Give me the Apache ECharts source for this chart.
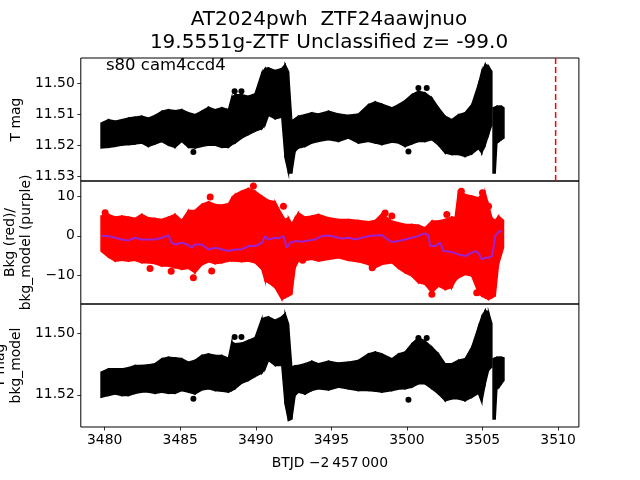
<!DOCTYPE html>
<html><head><meta charset="utf-8">
<script src="https://cdn.jsdelivr.net/npm/echarts@6/dist/echarts.min.js"></script>
<style>html,body{margin:0;padding:0;background:#fff}#c{width:640px;height:480px}</style>
</head><body><div id="c"></div>
<script>
// ---------- data ----------
// top panel: T mag envelope (bright edge / faint edge)
const topT  = [3479.76,3480.25,3480.69,3481.13,3481.57,3482.01,3482.45,3482.89,3483.34,3483.78,3484.22,3484.66,3485.10,3485.54,3485.98,3486.42,3486.87,3487.31,3487.75,3488.19,3488.41,3488.63,3489.07,3489.51,3489.95,3490.40,3490.62,3490.84,3491.28,3491.72,3491.94,3492.16,3492.38,3492.60,3492.82,3493.26,3493.70,3494.15,3494.81,3495.47,3496.13,3496.79,3497.45,3497.90,3498.34,3499.00,3499.44,3499.88,3500.32,3500.76,3501.20,3501.65,3502.09,3502.53,3502.97,3503.41,3503.85,3504.29,3504.73,3504.95,3505.18,3505.40,3505.62];
const topHi = [11.5128,11.5117,11.5122,11.5117,11.5112,11.5109,11.5106,11.5112,11.5103,11.5090,11.5085,11.5088,11.5085,11.5095,11.5101,11.5090,11.5077,11.5085,11.5079,11.5085,11.5045,11.5037,11.5037,11.5042,11.5034,11.4967,11.4953,11.4951,11.4959,11.4953,11.4940,11.4962,11.5120,11.5114,11.5106,11.5101,11.5095,11.5099,11.5090,11.5099,11.5103,11.5099,11.5069,11.5060,11.5067,11.5079,11.5069,11.5056,11.5037,11.5026,11.5031,11.5047,11.5079,11.5106,11.5117,11.5101,11.5095,11.5069,11.5004,11.4962,11.4940,11.4945,11.4962];
const topLo = [11.5208,11.5206,11.5203,11.5199,11.5197,11.5195,11.5192,11.5203,11.5195,11.5187,11.5199,11.5206,11.5187,11.5206,11.5208,11.5203,11.5199,11.5199,11.5206,11.5206,11.5197,11.5192,11.5176,11.5165,11.5154,11.5146,11.5133,11.5103,11.5114,11.5109,11.5240,11.5288,11.5288,11.5219,11.5208,11.5203,11.5192,11.5187,11.5181,11.5187,11.5176,11.5192,11.5187,11.5192,11.5197,11.5189,11.5192,11.5203,11.5195,11.5187,11.5187,11.5181,11.5199,11.5224,11.5229,11.5229,11.5235,11.5227,11.5210,11.5224,11.5199,11.5165,11.5133];
const topPieceT  = [3505.70,3505.84,3505.95,3506.10,3506.25,3506.42];
const topPieceHi = [11.5079,11.5077,11.5074,11.5074,11.5074,11.5079];
const topPieceLo = [11.5288,11.5288,11.5192,11.5187,11.5181,11.5176];
const topOutT = [3485.87,3488.60,3489.05,3500.10,3500.76,3501.31];
const topOutM = [11.5221,11.5026,11.5026,11.5219,11.5015,11.5015];
const markerT = 3509.84;

// middle panel: background (red) envelope and background model (purple)
const bkgT  = [3479.76,3480.25,3480.69,3481.13,3481.57,3482.01,3482.45,3482.89,3483.34,3483.78,3484.22,3484.66,3485.10,3485.54,3485.98,3486.42,3486.87,3487.31,3487.75,3488.19,3488.41,3488.63,3489.07,3489.51,3489.95,3490.40,3490.62,3490.84,3491.28,3491.72,3491.94,3492.16,3492.38,3492.60,3492.82,3493.26,3493.70,3494.15,3494.81,3495.47,3496.13,3496.79,3497.45,3497.90,3498.34,3499.00,3499.44,3499.88,3500.32,3500.76,3501.20,3501.65,3502.09,3502.53,3502.97,3503.19,3503.41,3503.85,3504.29,3504.73,3504.95,3505.18,3505.40,3505.62,3505.84,3506.06,3506.39];
const bkgHi = [4.99,5.41,4.73,4.99,4.73,4.40,5.41,4.57,4.40,4.14,4.73,5.41,3.89,6.42,6.42,7.94,8.62,7.94,7.77,8.11,9.63,10.47,11.32,11.99,11.32,10.05,9.46,8.95,8.62,5.41,4.14,4.57,3.04,4.57,5.83,4.73,4.99,5.41,4.57,4.14,4.14,3.89,3.55,3.89,5.58,3.72,3.30,2.88,2.88,2.71,2.03,3.72,3.72,4.14,4.73,4.57,11.32,10.47,10.05,9.63,10.47,10.90,7.77,4.57,3.89,4.99,3.89];
const bkgLo = [-3.87,-5.39,-6.41,-6.24,-6.41,-6.24,-6.83,-6.83,-7.08,-7.67,-7.67,-8.09,-8.51,-8.26,-9.36,-7.42,-6.58,-7.08,-6.83,-6.41,-6.41,-6.41,-6.58,-6.41,-6.83,-8.51,-11.47,-11.89,-13.16,-16.11,-15.69,-15.27,-14.84,-8.09,-6.41,-6.24,-5.98,-6.41,-5.98,-5.56,-6.24,-6.58,-7.25,-8.09,-7.25,-6.83,-8.26,-9.36,-10.20,-11.89,-12.31,-14.42,-12.73,-13.58,-13.16,-11.47,-10.63,-9.78,-10.20,-14.42,-15.27,-15.69,-16.11,-15.69,-15.27,-7.25,-3.03];
const bkgOutT = [3480.03,3483.00,3485.87,3484.40,3487.08,3486.98,3489.84,3491.83,3498.56,3499.00,3493.10,3502.64,3503.60,3505.00,3505.40,3504.62,3501.65,3497.70];
const bkgOutV = [5.83,-8.3,-10.6,-9.0,-8.9,9.8,12.6,7.5,5.8,5.0,-6.2,5.4,11.3,10.9,7.5,-14.4,-14.8,-8.1];
const modelT = [3479.76,3480.25,3480.69,3481.13,3481.57,3482.01,3482.45,3482.89,3483.34,3483.78,3484.22,3484.44,3484.66,3485.10,3485.54,3485.76,3485.98,3486.42,3486.87,3487.31,3487.75,3488.19,3488.63,3489.07,3489.51,3489.95,3490.40,3490.62,3490.84,3491.28,3491.50,3491.83,3492.05,3492.27,3492.60,3493.04,3493.48,3493.92,3494.37,3494.81,3495.25,3495.69,3496.13,3496.57,3497.01,3497.45,3497.90,3498.34,3498.56,3499.00,3499.44,3499.88,3500.32,3500.76,3500.98,3501.20,3501.43,3501.54,3501.87,3502.20,3502.42,3502.97,3503.41,3503.85,3504.29,3504.51,3504.73,3504.95,3505.18,3505.40,3505.62,3505.73,3505.84,3506.06,3506.28];
const modelV = [-0.08,-0.08,-0.5,-0.92,-1.17,-0.5,-0.92,-0.92,-0.92,-0.5,0.09,-1.76,-2.19,-1.76,-2.35,-3.03,-2.19,-2.19,-3.45,-3.03,-3.45,-3.87,-3.45,-3.45,-2.61,-2.61,-1.76,-0.08,-0.92,-0.5,-0.67,-0.08,-3.03,-1.76,-1.34,-1.51,-1.17,-0.92,-0.08,0.09,-0.33,-0.67,-0.5,-0.92,-0.5,-0.08,0.09,0.18,-0.5,-1.59,-1.34,-0.92,-0.5,-0.08,0.35,0.6,0.09,-2.61,-2.61,-1.76,-3.87,-4.13,-4.72,-5.14,-4.30,-3.87,-4.30,-5.98,-5.56,-5.56,-5.14,-3.03,-0.08,1.02,1.19];

// bottom panel: T mag - bkg_model envelope
const botT  = [3479.76,3480.25,3480.69,3481.13,3481.57,3482.01,3482.45,3482.89,3483.34,3483.78,3484.22,3484.66,3485.10,3485.54,3485.98,3486.42,3486.87,3487.31,3487.75,3488.19,3488.41,3488.63,3489.07,3489.51,3489.95,3490.40,3490.62,3490.84,3491.28,3491.72,3491.94,3492.16,3492.38,3492.60,3492.82,3493.26,3493.70,3494.15,3494.81,3495.47,3496.13,3496.79,3497.45,3497.90,3498.34,3499.00,3499.44,3499.88,3500.32,3500.76,3501.20,3501.65,3502.09,3502.53,3502.97,3503.41,3503.85,3504.29,3504.73,3504.95,3505.18,3505.40,3505.62];
const botHi = [11.5126,11.5115,11.5115,11.5115,11.5111,11.5104,11.5104,11.5102,11.5098,11.5082,11.5077,11.5079,11.5082,11.5093,11.5087,11.5071,11.5066,11.5071,11.5071,11.5080,11.5027,11.5033,11.5031,11.5022,11.5013,11.4951,11.4948,11.4945,11.4956,11.4945,11.4934,11.4967,11.5109,11.5105,11.5104,11.5098,11.5090,11.5098,11.5090,11.5096,11.5093,11.5087,11.5066,11.5060,11.5066,11.5082,11.5066,11.5060,11.5033,11.5013,11.5024,11.5044,11.5066,11.5098,11.5098,11.5087,11.5082,11.5044,11.4978,11.4945,11.4924,11.4929,11.4967];
const botLo = [11.5208,11.5202,11.5197,11.5202,11.5202,11.5195,11.5191,11.5191,11.5195,11.5191,11.5195,11.5195,11.5186,11.5191,11.5197,11.5184,11.5180,11.5186,11.5188,11.5191,11.5186,11.5180,11.5162,11.5153,11.5140,11.5129,11.5115,11.5087,11.5104,11.5104,11.5230,11.5284,11.5279,11.5202,11.5191,11.5197,11.5186,11.5180,11.5184,11.5175,11.5180,11.5186,11.5186,11.5188,11.5191,11.5186,11.5181,11.5180,11.5175,11.5164,11.5164,11.5180,11.5197,11.5219,11.5213,11.5213,11.5219,11.5208,11.5195,11.5224,11.5164,11.5120,11.5109];
const botPieceT  = [3505.70,3505.84,3505.95,3506.10,3506.25,3506.42];
const botPieceHi = [11.5082,11.5079,11.5077,11.5077,11.5077,11.5079];
const botPieceLo = [11.5279,11.5279,11.5180,11.5175,11.5164,11.5153];
const botOutT = [3485.87,3488.60,3489.05,3500.10,3500.76,3501.31];
const botOutM = [11.5213,11.5011,11.5011,11.5216,11.5014,11.5014];

// axes
const xRange = [3478.42, 3511.38];
const xTicks = [3480,3485,3490,3495,3500,3505,3510];
const topRange = [11.4919, 11.5314];
const topTicks = [11.50,11.51,11.52,11.53];
const midRange = [-17.27, 13.87];
const midTicks = [-10,0,10];
const botRange = [11.4903, 11.5305];
const botTicks = [11.50,11.52];

const titleLines = ['AT2024pwh  ZTF24aawjnuo','19.5551g-ZTF Unclassified z= -99.0'];
const annot = 's80 cam4ccd4';

// ---------- chart ----------
const FONT = 'DejaVu Sans';
const chart = echarts.init(document.getElementById('c'), null, {renderer:'canvas'});

function band(gi, ts, his, los, color) {
  const data = ts.map((t,i)=>[t, his[i], los[i]]);
  return {
    type:'custom', xAxisIndex:gi, yAxisIndex:gi, data, silent:true, animation:false, clip:true,
    encode:{x:0, y:[1,2]},
    renderItem:(params, api)=>{
      const i = params.dataIndex;
      if (i >= data.length-1) return null;
      const a = data[i], b = data[i+1];
      const pts = [api.coord([a[0],a[1]]), api.coord([b[0],b[1]]), api.coord([b[0],b[2]]), api.coord([a[0],a[2]])];
      return {type:'polygon', shape:{points:pts}, style:{fill:color, stroke:color, lineWidth:1.5}};
    }
  };
}
function dots(gi, ts, vs, color, size) {
  return {type:'scatter', xAxisIndex:gi, yAxisIndex:gi, data:ts.map((t,i)=>[t,vs[i]]),
    symbolSize:size, itemStyle:{color, opacity:1}, silent:true, animation:false};
}
const minus = v => String(v).replace('-', '\u2212');

const grids = [
  {left:80.8, right:61.1, top:58, height:123},
  {left:80.8, right:61.1, top:181, height:123},
  {left:80.8, right:61.1, top:304, height:123}
].map(g=>Object.assign(g,{show:true, borderColor:'#000', borderWidth:1, backgroundColor:'transparent',
  containLabel:false, outerBoundsMode:'none'}));

const xAxes = [0,1,2].map(i=>({
  type:'value', gridIndex:i, min:xRange[0], max:xRange[1],
  axisLine:{show:false}, splitLine:{show:false},
  axisTick:{show:i===2, length:3.5, lineStyle:{color:'#000', width:0.8}, customValues:xTicks},
  axisLabel:{show:i===2, margin:6, fontFamily:FONT, fontSize:13.9, color:'#000', customValues:xTicks,
    formatter:v=>String(Math.round(v))},
  name: i===2 ? 'BTJD \u22122\u2009457\u2009000' : '',
  nameLocation:'middle', nameGap:29,
  nameTextStyle:{fontFamily:FONT, fontSize:13.9, color:'#000'}
}));
function yAx(i, range, ticks, inv, name, gap, fmt) {
  return {type:'value', gridIndex:i, min:range[0], max:range[1], inverse:inv,
    axisLine:{show:false}, splitLine:{show:false},
    axisTick:{show:true, length:3.5, lineStyle:{color:'#000', width:0.8}, customValues:ticks},
    axisLabel:{show:true, margin:6, fontFamily:FONT, fontSize:13.9, color:'#000', customValues:ticks, formatter:fmt},
    name, nameLocation:'middle', nameRotate:90, nameGap:gap,
    nameTextStyle:{fontFamily:FONT, fontSize:13.9, color:'#000', lineHeight:16}};
}
const yAxes = [
  yAx(0, topRange, topTicks, true, 'T mag', 56, v=>v.toFixed(2)),
  yAx(1, midRange, midTicks, false, 'Bkg (red)/\nbkg_model (purple)', 43, v=>minus(Math.round(v))),
  yAx(2, botRange, botTicks, true, 'T mag\nbkg_model', 55, v=>v.toFixed(2))
];

const series = [
  band(0, topT, topHi, topLo, '#000'),
  band(0, topPieceT, topPieceHi, topPieceLo, '#000'),
  dots(0, topOutT, topOutM, '#000', 6),
  {type:'line', xAxisIndex:0, yAxisIndex:0, data:[[markerT, topRange[0]],[markerT, topRange[1]]],
    symbol:'none', lineStyle:{color:'#ff0000', width:1.5, type:[6,3]}, silent:true, animation:false},
  band(1, bkgT, bkgHi, bkgLo, '#ff0000'),
  dots(1, bkgOutT, bkgOutV, '#ff0000', 7),
  {type:'line', xAxisIndex:1, yAxisIndex:1, data:modelT.map((t,i)=>[t, modelV[i]]),
    symbol:'none', lineStyle:{color:'#9b22d0', width:2}, silent:true, animation:false},
  band(2, botT, botHi, botLo, '#000'),
  band(2, botPieceT, botPieceHi, botPieceLo, '#000'),
  dots(2, botOutT, botOutM, '#000', 6)
];

chart.setOption({
  backgroundColor:'#fff',
  animation:false,
  grid:grids, xAxis:xAxes, yAxis:yAxes, series,
  graphic:[
    {type:'text', x:329, y:20, style:{text:titleLines[0], font:'20px "'+FONT+'"', fill:'#000', align:'center', verticalAlign:'middle'}},
    {type:'text', x:329, y:43, style:{text:titleLines[1], font:'20px "'+FONT+'"', fill:'#000', align:'center', verticalAlign:'middle'}},
    {type:'text', x:106, y:65.5, style:{text:annot, font:'16.5px "'+FONT+'"', fill:'#000', align:'left', verticalAlign:'middle'}}
  ]
});
</script></body></html>
